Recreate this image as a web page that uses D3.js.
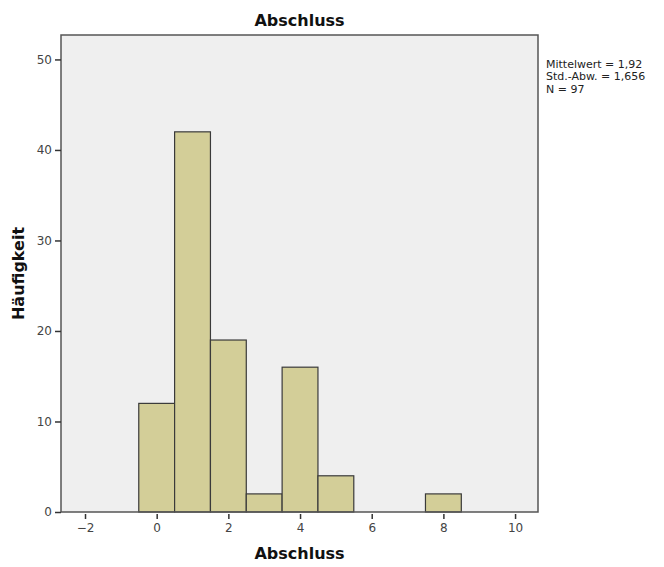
<!DOCTYPE html>
<html>
<head>
<meta charset="utf-8">
<script src="https://cdn.jsdelivr.net/npm/d3@7"></script>
<style>
  body { margin: 0; background: #fff; }
  svg { display: block; }
  text { font-family: "DejaVu Sans", "Liberation Sans", sans-serif; }
</style>
</head>
<body>
<svg id="chart" width="664" height="567"></svg>
<script>
// Histogram of "Abschluss": bins of width 1 centred on integer values
const binCenters = [0, 1, 2, 3, 4, 5, 6, 7, 8];
const counts = [12, 42, 19, 2, 16, 4, 0, 0, 2];
const xTicks = [-2, 0, 2, 4, 6, 8, 10];
const yTicks = [0, 10, 20, 30, 40, 50];
const statLines = ["Mittelwert = 1,92", "Std.-Abw. = 1,656", "N = 97"];

const svg = d3.select("#chart");
const plot = { left: 61, top: 35, right: 538, bottom: 512 };

const x = d3.scaleLinear().domain([-2.67, 10.64]).range([plot.left, plot.right]);
const y = d3.scaleLinear().domain([0, 52.7]).range([plot.bottom, plot.top]);

// plot background
svg.append("rect")
  .attr("x", plot.left).attr("y", plot.top)
  .attr("width", plot.right - plot.left).attr("height", plot.bottom - plot.top)
  .attr("fill", "#efefef");

// bars
svg.append("g").selectAll("rect")
  .data(binCenters.map((c, i) => ({ c, n: counts[i] })).filter(d => d.n > 0))
  .join("rect")
  .attr("x", d => x(d.c - 0.5))
  .attr("y", d => y(d.n))
  .attr("width", d => x(d.c + 0.5) - x(d.c - 0.5))
  .attr("height", d => y(0) - y(d.n))
  .attr("fill", "#d3ce98")
  .attr("stroke", "#3a3a3a")
  .attr("stroke-width", 1.2);

// frame
svg.append("rect")
  .attr("x", plot.left).attr("y", plot.top)
  .attr("width", plot.right - plot.left).attr("height", plot.bottom - plot.top)
  .attr("fill", "none")
  .attr("stroke", "#555")
  .attr("stroke-width", 1.5);

// axes
const xAxis = svg.append("g")
  .attr("transform", `translate(0,${plot.bottom})`)
  .call(d3.axisBottom(x).tickValues(xTicks).tickSize(7).tickPadding(4).tickFormat(d3.format("d")));
const yAxis = svg.append("g")
  .attr("transform", `translate(${plot.left},0)`)
  .call(d3.axisLeft(y).tickValues(yTicks).tickSize(6).tickPadding(3).tickFormat(d3.format("d")));

[xAxis, yAxis].forEach(g => {
  g.select(".domain").remove();
  g.selectAll(".tick line").attr("stroke", "#333").attr("stroke-width", 1.5);
  g.selectAll(".tick text")
    .attr("fill", "#444")
    .style("font-size", "12px")
    .style("font-family", "'DejaVu Sans', sans-serif");
});
xAxis.selectAll(".tick line").attr("y1", 2);

// titles
const cx = (plot.left + plot.right) / 2;
svg.append("text")
  .attr("x", cx).attr("y", 26)
  .attr("text-anchor", "middle")
  .style("font-size", "16px").style("font-weight", "bold")
  .attr("fill", "#111")
  .text("Abschluss");

svg.append("text")
  .attr("x", cx).attr("y", 559)
  .attr("text-anchor", "middle")
  .style("font-size", "16px").style("font-weight", "bold")
  .attr("fill", "#111")
  .text("Abschluss");

svg.append("text")
  .attr("transform", `translate(24,${(plot.top + plot.bottom) / 2}) rotate(-90)`)
  .attr("text-anchor", "middle")
  .style("font-size", "16px").style("font-weight", "bold")
  .attr("fill", "#111")
  .text("Häufigkeit");

// summary statistics
svg.append("g").selectAll("text")
  .data(statLines)
  .join("text")
  .attr("x", 546)
  .attr("y", (d, i) => 68 + i * 12.3)
  .style("font-size", "11px")
  .attr("fill", "#222")
  .text(d => d);
</script>
</body>
</html>
